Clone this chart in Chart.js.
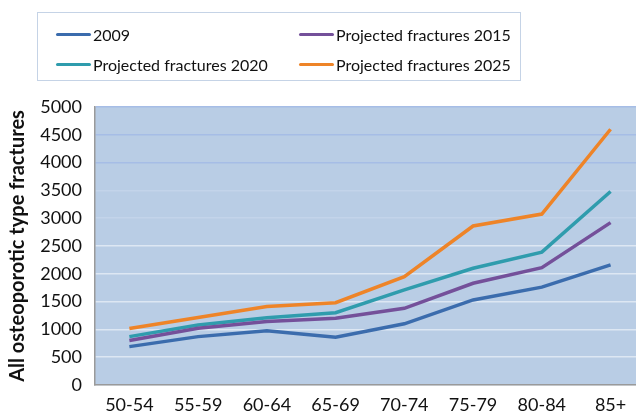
<!DOCTYPE html>
<html>
<head>
<meta charset="utf-8">
<script src="https://cdn.jsdelivr.net/npm/chart.js@4/dist/chart.umd.min.js"></script>
<style>
  html, body { margin: 0; padding: 0; background: #fff; overflow: hidden; }
  #wrap { position: relative; width: 636px; height: 413px; }
  #legend {
    position: absolute; left: 37px; top: 12px; width: 484px; height: 69px;
    border: 1px solid #c5d3e6; box-sizing: border-box;
    font-family: Lato, sans-serif; font-size: 16px; color: #111;
  }
  .item { position: absolute; display: flex; align-items: center; white-space: nowrap; }
  .swatch { width: 35px; height: 3px; border-radius: 2px; margin-right: 2px; }
</style>
</head>
<body>
<div id="wrap">
  <canvas id="chart" width="636" height="413"></canvas>
  <div id="legend"></div>
</div>
<script>
const ageGroups = ['50-54', '55-59', '60-64', '65-69', '70-74', '75-79', '80-84', '85+'];
const fractures2009 = [690, 870, 975, 860, 1100, 1530, 1760, 2160];
const projected2015 = [800, 1020, 1140, 1200, 1380, 1830, 2110, 2920];
const projected2020 = [870, 1080, 1210, 1300, 1710, 2100, 2390, 3480];
const projected2025 = [1015, 1215, 1410, 1480, 1950, 2860, 3075, 4600];
const yTicks = [0, 500, 1000, 1500, 2000, 2500, 3000, 3500, 4000, 4500, 5000];

const seriesNames = ['2009', 'Projected fractures 2015', 'Projected fractures 2020', 'Projected fractures 2025'];
const seriesColors = ['#3b6cad', '#74509a', '#2f9cad', '#ee8428'];
const seriesValues = [fractures2009, projected2015, projected2020, projected2025];

const toPoints = vals => vals.map((v, i) => ({ x: i, y: v }));

const plotBackground = {
    id: 'plotBackground',
    beforeDraw(chart) {
        const { ctx, chartArea } = chart;
        ctx.save();
        ctx.fillStyle = '#b9cde5';
        ctx.fillRect(chartArea.left, chartArea.top, chartArea.right - chartArea.left, chartArea.bottom - chartArea.top);
        ctx.restore();
    }
};

const font = { family: 'Lato, sans-serif', size: 18 };

const chart = new Chart(document.getElementById('chart'), {
    type: 'line',
    data: {
        datasets: seriesValues.map((vals, i) => ({
            label: seriesNames[i],
            data: toPoints(vals),
            borderColor: seriesColors[i],
            borderWidth: 3.5,
            pointRadius: 0,
            tension: 0,
            fill: false
        }))
    },
    options: {
        responsive: false,
        animation: false,
        layout: { padding: { top: 107, left: 0, right: 0, bottom: 0 } },
        plugins: { legend: { display: false }, tooltip: { enabled: false } },
        scales: {
            x: {
                type: 'linear',
                min: -0.5,
                max: 7.37,
                afterBuildTicks: axis => { axis.ticks = ageGroups.map((_, i) => ({ value: i })); },
                afterFit: axis => { axis.height = 28; },
                grid: { display: false, drawTicks: false },
                border: { color: '#9a9a9a', width: 1.5 },
                ticks: {
                    color: '#111',
                    font: font,
                    padding: 9,
                    maxRotation: 0,
                    autoSkip: false,
                    callback: v => ageGroups[v]
                }
            },
            y: {
                min: 0,
                max: 5000,
                afterBuildTicks: axis => { axis.ticks = yTicks.map(v => ({ value: v })); },
                afterFit: axis => { axis.width = 95; },
                grid: {
                    drawTicks: false,
                    lineWidth: 1.5,
                    color: c => {
                        const v = c.tick && c.tick.value;
                        if (v >= 4000) return '#a6bde6';
                        if (v >= 3000) return '#c3d4ea';
                        return '#dde7f3';
                    }
                },
                border: { color: '#9a9a9a', width: 1.5 },
                ticks: { color: '#111', font: font, padding: 13, callback: v => String(v) },
                title: {
                    display: true,
                    text: 'All osteoporotic type fractures',
                    color: '#111',
                    font: { family: 'Lato, sans-serif', size: 20, weight: 'bold' },
                    padding: { top: 6, bottom: 0 }
                }
            }
        }
    },
    plugins: [plotBackground]
});

// legend: 2 x 2 grid like the original
const legendPos = [[18, 12], [261, 12], [18, 42], [261, 42]];
const legendEl = document.getElementById('legend');
chart.data.datasets.forEach((ds, i) => {
    const item = document.createElement('div');
    item.className = 'item';
    item.style.left = legendPos[i][0] + 'px';
    item.style.top = legendPos[i][1] + 'px';
    item.innerHTML = `<span class="swatch" style="background:${ds.borderColor}"></span><span>${ds.label}</span>`;
    legendEl.appendChild(item);
});
</script>
</body>
</html>
